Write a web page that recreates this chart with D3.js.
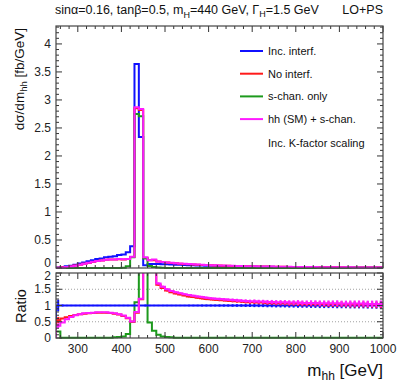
<!DOCTYPE html>
<html>
<head>
<meta charset="utf-8">
<script src="https://cdn.jsdelivr.net/npm/d3@7"></script>
<style>
  body { margin: 0; background: #fff; }
  svg { display: block; font-family: "Liberation Sans", Arial, sans-serif; }
</style>
</head>
<body>
<svg id="chart" width="399" height="383"></svg>
<script>
// bins: 10 GeV wide, first bin starts at 250 GeV
const binLow = 250;
const binWidth = 10;

// main panel, dsigma/dm_hh [fb/GeV], one value per bin (250 ... 990)
const incInterf = [
  0.01,0.02,0.03,0.04,0.06,0.08,0.10,0.12,0.14,0.16,
  0.17,0.19,0.20,0.21,0.23,0.24,0.28,0.39,3.64,2.34,
  0.05,0.07,0.07,0.07,0.068,0.066,0.063,0.06,0.057,0.054,
  0.051,0.048,0.046,0.044,0.042,0.040,0.038,0.036,0.034,0.033,
  0.031,0.030,0.028,0.027,0.026,0.025,0.024,0.023,0.022,0.021,
  0.020,0.019,0.018,0.018,0.017,0.016,0.016,0.015,0.014,0.014,
  0.013,0.013,0.012,0.012,0.011,0.011,0.010,0.010,0.010,0.009,
  0.009,0.009,0.008,0.008,0.008
];
const noInterf = [
  0.006,0.012,0.019,0.027,0.043,0.058,0.075,0.091,0.108,0.124,
  0.132,0.146,0.150,0.151,0.157,0.152,0.160,0.196,2.85,2.82,
  0.18,0.14,0.14,0.115,0.105,0.096,0.089,0.083,0.077,0.072,
  0.067,0.062,0.058,0.055,0.052,0.049,0.046,0.043,0.041,0.039,
  0.037,0.035,0.033,0.031,0.030,0.029,0.027,0.026,0.025,0.024,
  0.023,0.022,0.021,0.020,0.019,0.018,0.017,0.017,0.016,0.015,
  0.014,0.014,0.013,0.013,0.012,0.012,0.011,0.011,0.011,0.010,
  0.010,0.010,0.009,0.009,0.009
];
const sChanOnly = [
  0.002,0.001,0.001,0.001,0.001,0.001,0.001,0.001,0.001,0.001,
  0.001,0.001,0.001,0.001,0.002,0.005,0.03,0.19,2.75,2.71,
  0.17,0.035,0.017,0.007,0.004,0.002,0.001,0.001,0.001,0.001,
  0.001,0.001,0.001,0.001,0.001,0.001,0.001,0.001,0.001,0.001,
  0.001,0.001,0.001,0.001,0.001,0.001,0.001,0.001,0.001,0.001,
  0.001,0.001,0.001,0.001,0.001,0.001,0.001,0.001,0.001,0.001,
  0.001,0.001,0.001,0.001,0.001,0.001,0.001,0.001,0.001,0.001,
  0.001,0.001,0.001,0.001,0.001
];
const hhSMsChan = [
  0.004,0.01,0.017,0.026,0.042,0.058,0.076,0.092,0.11,0.126,
  0.134,0.148,0.152,0.153,0.159,0.154,0.162,0.199,2.87,2.84,
  0.19,0.14,0.15,0.118,0.108,0.1,0.092,0.086,0.08,0.075,
  0.07,0.065,0.061,0.057,0.054,0.051,0.048,0.045,0.043,0.041,
  0.039,0.037,0.035,0.033,0.031,0.030,0.028,0.027,0.026,0.025,
  0.024,0.023,0.022,0.021,0.020,0.019,0.018,0.018,0.017,0.016,
  0.015,0.015,0.014,0.014,0.013,0.013,0.012,0.012,0.011,0.011,
  0.011,0.010,0.010,0.010,0.009
];

// ratio panel (to Inc. interf.)
const ratioNoInterf = [
  0.55,0.60,0.64,0.68,0.71,0.73,0.75,0.76,0.77,0.78,
  0.78,0.78,0.77,0.75,0.72,0.68,0.61,0.50,0.78,1.19,
  3,2.4,2.2,1.64,1.54,1.46,1.41,1.37,1.34,1.31,
  1.28,1.26,1.24,1.22,1.20,1.19,1.18,1.17,1.16,1.15,
  1.14,1.13,1.12,1.11,1.10,1.10,1.09,1.09,1.08,1.08,
  1.07,1.07,1.07,1.06,1.06,1.06,1.05,1.05,1.05,1.05,
  1.05,1.04,1.04,1.04,1.04,1.04,1.03,1.03,1.03,1.03,
  1.03,1.03,1.03,1.02,1.02
];
const ratioSChan = [
  0.2,0.01,0.01,0.01,0.01,0.01,0.01,0.01,0.01,0.01,
  0.01,0.01,0.01,0.02,0.03,0.05,0.12,0.5,1.1,3,
  3,0.48,0.22,0.1,0.05,0.03,0.02,0.01,0.01,0.01,
  0.01,0.01,0.01,0.01,0.01,0.01,0.01,0.01,0.01,0.01,
  0.01,0.01,0.01,0.01,0.01,0.01,0.01,0.01,0.01,0.01,
  0.01,0.01,0.01,0.01,0.01,0.01,0.01,0.01,0.01,0.01,
  0.01,0.01,0.01,0.01,0.01,0.01,0.01,0.01,0.01,0.01,
  0.01,0.01,0.01,0.01,0.01
];
const ratioHhSM = [
  0.38,0.48,0.58,0.65,0.70,0.73,0.76,0.77,0.78,0.79,
  0.79,0.79,0.78,0.76,0.73,0.69,0.62,0.51,0.80,1.21,
  3,2.4,2.2,1.68,1.58,1.5,1.45,1.41,1.38,1.35,
  1.32,1.30,1.28,1.26,1.24,1.22,1.21,1.20,1.19,1.18,
  1.17,1.16,1.15,1.14,1.13,1.13,1.12,1.12,1.11,1.11,
  1.10,1.10,1.10,1.09,1.09,1.09,1.08,1.08,1.08,1.08,
  1.07,1.07,1.07,1.07,1.07,1.06,1.06,1.06,1.06,1.06,
  1.06,1.05,1.05,1.05,1.05
];
const ratioErr = [
  0.18,0.03,0.02,0.02,0.02,0.02,0.02,0.02,0.02,0.02,
  0.02,0.02,0.02,0.02,0.02,0.02,0.02,0.02,0.01,0.01,
  0.03,0.02,0.02,0.02,0.02,0.02,0.02,0.02,0.02,0.02,
  0.025,0.025,0.025,0.03,0.03,0.03,0.03,0.035,0.035,0.035,
  0.04,0.04,0.04,0.045,0.045,0.05,0.05,0.05,0.055,0.055,
  0.06,0.06,0.06,0.065,0.065,0.07,0.07,0.07,0.075,0.075,
  0.08,0.08,0.08,0.08,0.085,0.085,0.085,0.09,0.09,0.09,
  0.09,0.095,0.095,0.1,0.1
];

const legendLabels = ["Inc. interf.", "No interf.", "s-chan. only", "hh (SM) + s-chan."];
const colors = { blue: "#1010ff", red: "#ff1a1a", green: "#1d9a1d", magenta: "#ff1aff" };

const xMajor = [300, 400, 500, 600, 700, 800, 900, 1000];
const yMainTicks = [0, 0.5, 1, 1.5, 2, 2.5, 3, 3.5, 4];
const yRatioTicks = [0, 0.5, 1, 1.5, 2];

const svg = d3.select("#chart");

// frame geometry
const left = 56, right = 383;
const mainTop = 26, mainBottom = 268;
const ratTop = 273, ratBottom = 338;

let x = d3.scaleLinear().domain([250, 1000]).range([left, right]);
let yMain = d3.scaleLinear().domain([0, 4.32]).range([mainBottom, mainTop]);
let yRat = d3.scaleLinear().domain([0, 2]).range([ratBottom, ratTop]);

let xMinor = d3.range(260, 1000, 20).filter(function(d) { return d % 100 !== 0; });
let yMainMinor = d3.range(0, 4.31, 0.1).filter(function(d) { return Math.abs(d * 2 - Math.round(d * 2)) > 0.01; });
let yRatMinor = d3.range(0, 2.01, 0.1).filter(function(d) { return Math.abs(d * 2 - Math.round(d * 2)) > 0.01; });

// clip paths
let defs = svg.append("defs");
defs.append("clipPath").attr("id", "clipMain").append("rect")
  .attr("x", left).attr("y", mainTop).attr("width", right - left).attr("height", mainBottom - mainTop + 1);
defs.append("clipPath").attr("id", "clipRat").append("rect")
  .attr("x", left).attr("y", ratTop).attr("width", right - left).attr("height", ratBottom - ratTop + 1);

// step outline for a histogram
function stepPoints(vals) {
  let pts = [[binLow, 0]];
  vals.forEach(function(v, i) { pts.push([binLow + i * binWidth, v]); });
  pts.push([binLow + vals.length * binWidth, vals[vals.length - 1]]);
  return pts;
}

function drawHist(g, vals, yScale, color) {
  let line = d3.line()
    .x(function(d) { return x(d[0]); })
    .y(function(d) { return yScale(d[1]); })
    .curve(d3.curveStepAfter);
  g.append("path")
    .datum(stepPoints(vals))
    .attr("fill", "none")
    .attr("stroke", color)
    .attr("stroke-width", 2)
    .attr("d", line);
}

// ticks for one frame; labelShift nudges the end labels apart
function drawTicks(yScale, top, bottom, major, minor, xLabels, labelShift) {
  let g = svg.append("g").attr("stroke", "#333").attr("stroke-width", 1);
  xMajor.forEach(function(d) {
    g.append("line").attr("x1", x(d)).attr("x2", x(d)).attr("y1", bottom).attr("y2", bottom - 6);
    g.append("line").attr("x1", x(d)).attr("x2", x(d)).attr("y1", top).attr("y2", top + 6);
  });
  xMinor.forEach(function(d) {
    g.append("line").attr("x1", x(d)).attr("x2", x(d)).attr("y1", bottom).attr("y2", bottom - 3);
    g.append("line").attr("x1", x(d)).attr("x2", x(d)).attr("y1", top).attr("y2", top + 3);
  });
  major.forEach(function(d) {
    g.append("line").attr("x1", left).attr("x2", left + 6).attr("y1", yScale(d)).attr("y2", yScale(d));
    g.append("line").attr("x1", right).attr("x2", right - 6).attr("y1", yScale(d)).attr("y2", yScale(d));
  });
  minor.forEach(function(d) {
    g.append("line").attr("x1", left).attr("x2", left + 3).attr("y1", yScale(d)).attr("y2", yScale(d));
    g.append("line").attr("x1", right).attr("x2", right - 3).attr("y1", yScale(d)).attr("y2", yScale(d));
  });
  // y labels
  svg.append("g").selectAll("text")
    .data(major)
    .enter().append("text")
    .attr("x", left - 5)
    .attr("y", function(d) { return yScale(d) + 4 + labelShift(d); })
    .attr("text-anchor", "end")
    .attr("font-size", 12)
    .attr("fill", "#222")
    .text(function(d) { return d3.format("~g")(d); });
  if (xLabels) {
    svg.append("g").selectAll("text")
      .data(xMajor)
      .enter().append("text")
      .attr("x", function(d) { return x(d); })
      .attr("y", bottom + 15)
      .attr("text-anchor", "middle")
      .attr("font-size", 12)
      .attr("fill", "#222")
      .text(function(d) { return d; });
  }
  // frame
  svg.append("rect")
    .attr("x", left).attr("y", top)
    .attr("width", right - left).attr("height", bottom - top)
    .attr("fill", "none").attr("stroke", "#444").attr("stroke-width", 1.2);
}

// ---------- main panel ----------
let mainG = svg.append("g").attr("clip-path", "url(#clipMain)");
drawHist(mainG, incInterf, yMain, colors.blue);
drawHist(mainG, noInterf, yMain, colors.red);
drawHist(mainG, sChanOnly, yMain, colors.green);
drawHist(mainG, hhSMsChan, yMain, colors.magenta);
drawTicks(yMain, mainTop, mainBottom, yMainTicks, yMainMinor, false,
  function(d) { return d === 0 ? -5 : 0; });

// ---------- ratio panel ----------
let ratG = svg.append("g").attr("clip-path", "url(#clipRat)");
[0.5, 1, 1.5].forEach(function(d) {
  ratG.append("line")
    .attr("x1", left).attr("x2", right)
    .attr("y1", yRat(d)).attr("y2", yRat(d))
    .attr("stroke", "#888").attr("stroke-width", 0.8)
    .attr("stroke-dasharray", "1,2");
});
drawHist(ratG, ratioSChan, yRat, colors.green);

// blue reference: 1 with error bars
let ones = incInterf.map(function() { return 1; });
drawHist(ratG, ones, yRat, colors.blue);

function drawErrors(g, vals, color, w) {
  g.append("g").selectAll("line")
    .data(vals)
    .enter().append("line")
    .attr("x1", function(d, i) { return x(binLow + (i + 0.5) * binWidth); })
    .attr("x2", function(d, i) { return x(binLow + (i + 0.5) * binWidth); })
    .attr("y1", function(d, i) { return yRat(d + ratioErr[i] * d); })
    .attr("y2", function(d, i) { return yRat(d - ratioErr[i] * d); })
    .attr("stroke", color)
    .attr("stroke-width", w);
}
drawErrors(ratG, ones, colors.blue, 2);
drawHist(ratG, ratioNoInterf, yRat, colors.red);
drawErrors(ratG, ratioNoInterf, colors.red, 2);
drawHist(ratG, ratioHhSM, yRat, colors.magenta);
drawErrors(ratG, ratioHhSM, colors.magenta, 2.2);
drawTicks(yRat, ratTop, ratBottom, yRatioTicks, yRatMinor, true,
  function(d) { return d === 2 ? 3 : 0; });

// ---------- legend ----------
let legColors = [colors.blue, colors.red, colors.green, colors.magenta];
let legend = svg.append("g");
legendLabels.forEach(function(lab, i) {
  let yy = 51 + i * 22.7;
  legend.append("line")
    .attr("x1", 240).attr("x2", 263).attr("y1", yy).attr("y2", yy)
    .attr("stroke", legColors[i]).attr("stroke-width", 2);
  legend.append("text")
    .attr("x", 268).attr("y", yy + 4)
    .attr("font-size", 11).attr("fill", "#111")
    .text(lab);
});
legend.append("text")
  .attr("x", 268).attr("y", 147)
  .attr("font-size", 11).attr("fill", "#111")
  .text("Inc. K-factor scaling");

// ---------- texts ----------
let title = svg.append("text")
  .attr("x", 55).attr("y", 14)
  .attr("font-size", 12.5).attr("fill", "#111");
title.append("tspan").text("sinα=0.16, tanβ=0.5, m");
title.append("tspan").attr("dy", 4).attr("font-size", 9).text("H");
title.append("tspan").attr("dy", -4).text("=440 GeV, Γ");
title.append("tspan").attr("dy", 3).attr("font-size", 9).text("H");
title.append("tspan").attr("dy", -3).text("=1.5 GeV");

svg.append("text")
  .attr("x", 383).attr("y", 14)
  .attr("text-anchor", "end")
  .attr("font-size", 12.5).attr("fill", "#111")
  .text("LO+PS");

let yLab = svg.append("text")
  .attr("transform", "translate(24,28) rotate(-90)")
  .attr("text-anchor", "end")
  .attr("font-size", 13.5).attr("fill", "#111");
yLab.append("tspan").text("dσ/dm");
yLab.append("tspan").attr("dy", 3).attr("font-size", 9.5).text("hh");
yLab.append("tspan").attr("dy", -3).text(" [fb/GeV]");

svg.append("text")
  .attr("transform", "translate(26,306) rotate(-90)")
  .attr("text-anchor", "middle")
  .attr("font-size", 14.5).attr("fill", "#111")
  .text("Ratio");

let xLab = svg.append("text")
  .attr("x", 383).attr("y", 376)
  .attr("text-anchor", "end")
  .attr("font-size", 17).attr("fill", "#111");
xLab.append("tspan").text("m");
xLab.append("tspan").attr("dy", 4).attr("font-size", 12).text("hh");
xLab.append("tspan").attr("dy", -4).text(" [GeV]");
</script>
</body>
</html>
